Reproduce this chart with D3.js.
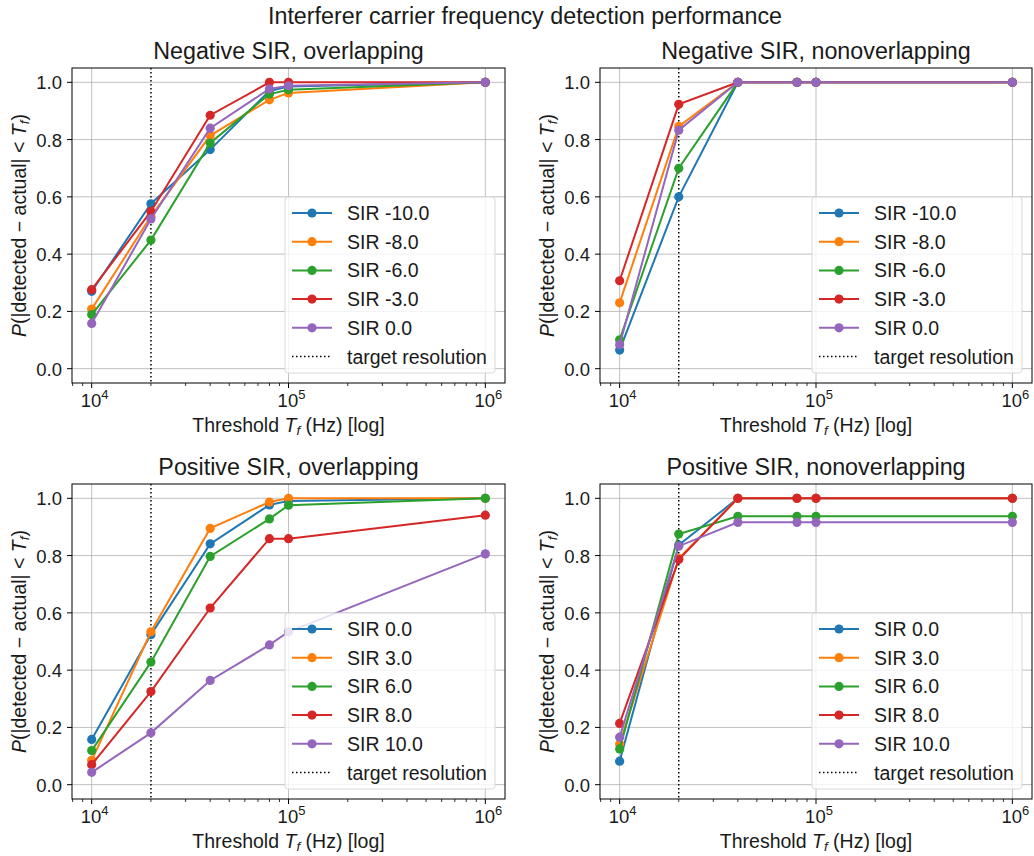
<!DOCTYPE html>
<html>
<head>
<meta charset="utf-8">
<script src="https://cdn.jsdelivr.net/npm/d3@7"></script>
<style>
  body { margin: 0; background: #fff; }
  svg text { font-family: "Liberation Sans", Arial, sans-serif; fill: #1a1a1a; }
</style>
</head>
<body>
<svg id="chart" width="1034" height="856"></svg>
<script>
const thresholds = [1e4, 2e4, 4e4, 8e4, 1e5, 1e6];
const targetResolution = 2e4;
const colors = ["#1f77b4", "#ff7f0e", "#2ca02c", "#d62728", "#9467bd"];
const yTicks = [0, 0.2, 0.4, 0.6, 0.8, 1.0];

const negLabels = ["SIR -10.0", "SIR -8.0", "SIR -6.0", "SIR -3.0", "SIR 0.0"];
const posLabels = ["SIR 0.0", "SIR 3.0", "SIR 6.0", "SIR 8.0", "SIR 10.0"];

const negOverlap = [
  [0.270, 0.576, 0.765, 0.970, 0.985, 1.0],
  [0.208, 0.532, 0.814, 0.939, 0.963, 1.0],
  [0.189, 0.449, 0.788, 0.959, 0.974, 1.0],
  [0.276, 0.549, 0.885, 1.0, 1.0, 1.0],
  [0.158, 0.523, 0.840, 0.977, 0.988, 1.0]
];
const negNonOverlap = [
  [0.065, 0.600, 1.0, 1.0, 1.0, 1.0],
  [0.230, 0.846, 1.0, 1.0, 1.0, 1.0],
  [0.101, 0.700, 1.0, 1.0, 1.0, 1.0],
  [0.307, 0.923, 1.0, 1.0, 1.0, 1.0],
  [0.084, 0.833, 1.0, 1.0, 1.0, 1.0]
];
const posOverlap = [
  [0.158, 0.524, 0.841, 0.977, 0.991, 1.0],
  [0.085, 0.534, 0.895, 0.987, 1.0, 1.0],
  [0.119, 0.428, 0.797, 0.928, 0.976, 1.0],
  [0.070, 0.325, 0.617, 0.859, 0.859, 0.941],
  [0.043, 0.181, 0.364, 0.488, 0.534, 0.806]
];
const posNonOverlap = [
  [0.082, 0.837, 1.0, 1.0, 1.0, 1.0],
  [0.142, 0.790, 1.0, 1.0, 1.0, 1.0],
  [0.125, 0.875, 0.937, 0.937, 0.937, 0.937],
  [0.214, 0.786, 1.0, 1.0, 1.0, 1.0],
  [0.166, 0.833, 0.916, 0.916, 0.916, 0.916]
];

const panels = [
  { title: "Negative SIR, overlapping", labels: negLabels, data: negOverlap, x0: 72, x1: 505, y0: 68, y1: 383 },
  { title: "Negative SIR, nonoverlapping", labels: negLabels, data: negNonOverlap, x0: 600, x1: 1032, y0: 68, y1: 383 },
  { title: "Positive SIR, overlapping", labels: posLabels, data: posOverlap, x0: 72, x1: 505, y0: 484, y1: 799 },
  { title: "Positive SIR, nonoverlapping", labels: posLabels, data: posNonOverlap, x0: 600, x1: 1032, y0: 484, y1: 799 }
];

const svg = d3.select("#chart");

svg.append("text")
  .attr("x", 525).attr("y", 24)
  .attr("text-anchor", "middle")
  .attr("font-size", 23.3)
  .text("Interferer carrier frequency detection performance");

const minorTicks = [];
for (let e = 3; e <= 6; e++) {
  for (let m = 2; m <= 9; m++) {
    const v = m * Math.pow(10, e);
    if (v > Math.pow(10, 3.9) && v < Math.pow(10, 6.1)) minorTicks.push(v);
  }
}

panels.forEach(p => {
  const x = d3.scaleLog().domain([Math.pow(10, 3.9), Math.pow(10, 6.1)]).range([p.x0, p.x1]);
  const y = d3.scaleLinear().domain([-0.05, 1.05]).range([p.y1, p.y0]);
  const g = svg.append("g");

  // grid
  g.selectAll("line.vgrid").data([1e4, 1e5, 1e6]).enter().append("line")
    .attr("x1", d => x(d)).attr("x2", d => x(d))
    .attr("y1", p.y0).attr("y2", p.y1)
    .attr("stroke", "#b0b0b0").attr("stroke-width", 0.8);
  g.selectAll("line.hgrid").data(yTicks).enter().append("line")
    .attr("x1", p.x0).attr("x2", p.x1)
    .attr("y1", d => y(d)).attr("y2", d => y(d))
    .attr("stroke", "#b0b0b0").attr("stroke-width", 0.8);

  // target resolution
  g.append("line")
    .attr("x1", x(targetResolution)).attr("x2", x(targetResolution))
    .attr("y1", p.y0).attr("y2", p.y1)
    .attr("stroke", "#000").attr("stroke-width", 1.5)
    .attr("stroke-dasharray", "1.5,2.5");

  // series
  const line = d3.line().x((d, i) => x(thresholds[i])).y(d => y(d));
  p.data.forEach((s, k) => {
    g.append("path").attr("d", line(s))
      .attr("fill", "none").attr("stroke", colors[k]).attr("stroke-width", 2);
    g.selectAll(null).data(s).enter().append("circle")
      .attr("cx", (d, i) => x(thresholds[i])).attr("cy", d => y(d))
      .attr("r", 4.6).attr("fill", colors[k]);
  });

  // frame
  g.append("rect")
    .attr("x", p.x0).attr("y", p.y0)
    .attr("width", p.x1 - p.x0).attr("height", p.y1 - p.y0)
    .attr("fill", "none").attr("stroke", "#000").attr("stroke-width", 1);

  // x ticks
  g.selectAll("line.minor").data(minorTicks).enter().append("line")
    .attr("x1", d => x(d)).attr("x2", d => x(d))
    .attr("y1", p.y1).attr("y2", p.y1 + 3)
    .attr("stroke", "#000").attr("stroke-width", 0.8);
  [4, 5, 6].forEach(e => {
    const xv = x(Math.pow(10, e));
    g.append("line").attr("x1", xv).attr("x2", xv)
      .attr("y1", p.y1).attr("y2", p.y1 + 5)
      .attr("stroke", "#000").attr("stroke-width", 1);
    const t = g.append("text").attr("x", xv + 3).attr("y", p.y1 + 24)
      .attr("text-anchor", "middle").attr("font-size", 18.5);
    t.append("tspan").text("10");
    t.append("tspan").attr("font-size", 13).attr("dy", -8).text(e);
  });

  // y ticks
  yTicks.forEach(v => {
    g.append("line").attr("x1", p.x0 - 5).attr("x2", p.x0)
      .attr("y1", y(v)).attr("y2", y(v))
      .attr("stroke", "#000").attr("stroke-width", 1);
    g.append("text").attr("x", p.x0 - 10).attr("y", y(v) + 7)
      .attr("text-anchor", "end").attr("font-size", 18.5)
      .text(d3.format(".1f")(v));
  });

  // title
  g.append("text")
    .attr("x", (p.x0 + p.x1) / 2).attr("y", p.y0 - 9)
    .attr("text-anchor", "middle").attr("font-size", 23.3)
    .text(p.title);

  // x label
  const xl = g.append("text")
    .attr("x", (p.x0 + p.x1) / 2).attr("y", p.y1 + 49)
    .attr("text-anchor", "middle").attr("font-size", 19.5);
  xl.append("tspan").text("Threshold ");
  xl.append("tspan").attr("font-style", "italic").text("T");
  xl.append("tspan").attr("font-style", "italic").attr("font-size", 13.5).attr("dy", 3).text("f");
  xl.append("tspan").attr("dy", -3).text(" (Hz) [log]");

  // y label
  const yl = g.append("text")
    .attr("transform", `translate(${p.x0 - 46},${(p.y0 + p.y1) / 2}) rotate(-90)`)
    .attr("text-anchor", "middle").attr("font-size", 19.5);
  yl.append("tspan").attr("font-style", "italic").text("P");
  yl.append("tspan").text("(|detected − actual| < ");
  yl.append("tspan").attr("font-style", "italic").text("T");
  yl.append("tspan").attr("font-style", "italic").attr("font-size", 13.5).attr("dy", 3).text("f");
  yl.append("tspan").attr("dy", -3).text(")");

  // legend
  const lw = 210, lh = 176;
  const lx = p.x1 - 10 - lw, ly = p.y1 - 10 - lh;
  const lg = g.append("g").attr("transform", `translate(${lx},${ly})`);
  lg.append("rect").attr("width", lw).attr("height", lh).attr("rx", 3)
    .attr("fill", "#fff").attr("fill-opacity", 0.8)
    .attr("stroke", "#d9d9d9").attr("stroke-width", 1);
  const entries = p.labels.map((l, k) => ({ label: l, color: colors[k], dotted: false }))
    .concat([{ label: "target resolution", color: "#000", dotted: true }]);
  entries.forEach((en, i) => {
    const cy = 16 + i * 28.7;
    lg.append("line").attr("x1", 7).attr("x2", 47).attr("y1", cy).attr("y2", cy)
      .attr("stroke", en.color).attr("stroke-width", en.dotted ? 1.5 : 2)
      .attr("stroke-dasharray", en.dotted ? "1.5,2.5" : null);
    if (!en.dotted) {
      lg.append("circle").attr("cx", 27).attr("cy", cy).attr("r", 4.6).attr("fill", en.color);
    }
    lg.append("text").attr("x", 62).attr("y", cy + 7).attr("font-size", 19.5).text(en.label);
  });
});
</script>
</body>
</html>
